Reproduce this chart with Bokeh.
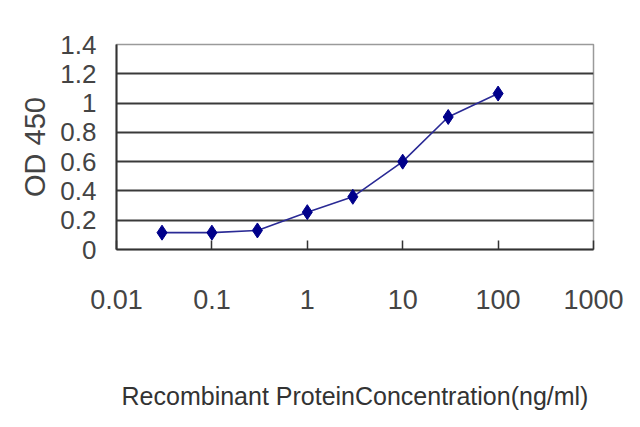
from bokeh.plotting import figure
from bokeh.models import FixedTicker, NumeralTickFormatter
from bokeh.embed import file_html
from bokeh.resources import INLINE

# ELISA standard curve
conc = [0.03, 0.1, 0.3, 1, 3, 10, 30, 100]
od450 = [0.115, 0.115, 0.13, 0.255, 0.36, 0.60, 0.905, 1.065]

x_ticks = [0.01, 0.1, 1, 10, 100, 1000]
y_ticks = [0, 0.2, 0.4, 0.6, 0.8, 1.0, 1.2, 1.4]

p = figure(width=632, height=420, x_axis_type="log",
           x_range=(0.01, 1000), y_range=(0, 1.4),
           output_backend="svg", toolbar_location=None,
           min_border_left=116, min_border_right=39,
           min_border_top=44, min_border_bottom=171)

p.background_fill_color = "white"
p.border_fill_color = "white"
p.outline_line_color = "#9a9a9a"
p.outline_line_width = 1.5

# horizontal grid only
p.xgrid.visible = False
p.ygrid.ticker = FixedTicker(ticks=y_ticks)
p.ygrid.grid_line_color = "#3a3a3a"
p.ygrid.grid_line_width = 2

p.line(conc, od450, line_color="#2a2a95", line_width=1.6)
p.scatter(conc, od450, marker="diamond", size=15, color="#00008b")

# x axis
xa = p.xaxis[0]
xa.ticker = FixedTicker(ticks=x_ticks)
xa.formatter = NumeralTickFormatter(format="0.[00]")
xa.minor_tick_line_color = None
xa.major_tick_in = 9
xa.major_tick_out = 0
xa.major_tick_line_color = "#333333"
xa.major_tick_line_width = 1.5
xa.axis_line_color = "#333333"
xa.axis_line_width = 2
xa.major_label_standoff = 40
xa.major_label_text_font = "Liberation Sans"
xa.major_label_text_font_size = "27px"
xa.major_label_text_color = "#444444"
xa.axis_label = "Recombinant ProteinConcentration(ng/ml)"
xa.axis_label_standoff = 70
xa.axis_label_text_font = "Liberation Sans"
xa.axis_label_text_font_size = "25px"
xa.axis_label_text_font_style = "normal"
xa.axis_label_text_color = "#333333"

# y axis
ya = p.yaxis[0]
ya.ticker = FixedTicker(ticks=y_ticks)
ya.formatter = NumeralTickFormatter(format="0.[0]")
ya.minor_tick_line_color = None
ya.major_tick_in = 0
ya.major_tick_out = 0
ya.axis_line_color = "#333333"
ya.axis_line_width = 2
ya.major_label_standoff = 20
ya.major_label_text_font = "Liberation Sans"
ya.major_label_text_font_size = "26px"
ya.major_label_text_color = "#444444"
ya.axis_label = "OD 450"
ya.axis_label_standoff = 6
ya.axis_label_text_font = "Liberation Sans"
ya.axis_label_text_font_size = "29px"
ya.axis_label_text_font_style = "normal"
ya.axis_label_text_color = "#444444"

open("out.html", "w").write(file_html(p, INLINE))
